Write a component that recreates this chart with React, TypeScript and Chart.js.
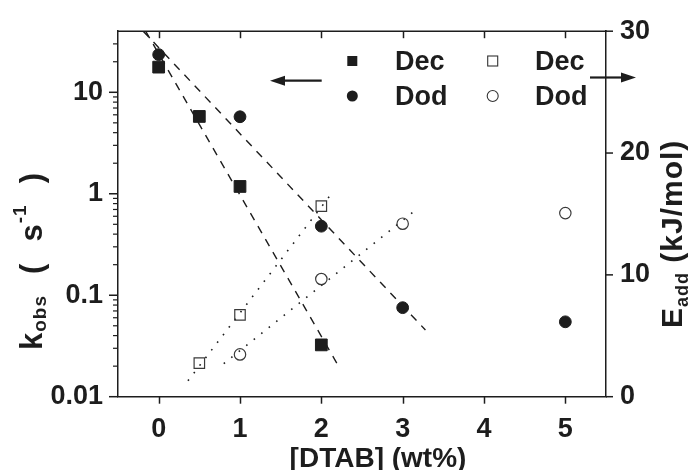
import React, { useEffect, useRef } from 'react';
import { Chart, registerables } from 'chart.js';

Chart.register(...registerables);

// Observed rate constants k_obs (s^-1) versus [DTAB] (wt%)
const decConc = [0, 0.5, 1, 2];
const decKobs = [17.7, 5.78, 1.18, 0.0324];
const dodConc = [0, 1, 2, 3, 5];
const dodKobs = [23.5, 5.74, 0.479, 0.0754, 0.0547];

// Apparent activation energies E_add (kJ/mol) versus [DTAB] (wt%)
const decEConc = [0.5, 1, 2];
const decEadd = [2.75, 6.72, 15.64];
const dodEConc = [1, 2, 3, 5];
const dodEadd = [3.47, 9.66, 14.2, 15.07];

// End points of the fitted trend lines
const decKFitConc = [-0.16, 2.19];
const decKFit = [40, 0.0214];
const dodKFitConc = [-0.19, 3.28];
const dodKFit = [40, 0.0454];
const decEFitConc = [0.36, 2.1];
const decEFit = [1.3, 16.45];
const dodEFitConc = [0.8, 3.19];
const dodEFit = [2.71, 15.48];

// Axis ticks
const xTicks = [0, 1, 2, 3, 4, 5];
const kTicks = [0.01, 0.1, 1, 10];
const kTickLabels = ['0.01', '0.1', '1', '10'];
const eTicks = [0, 10, 20, 30];
const legendNames = ['Dec', 'Dod'];

const INK = '#1d1d1d';
const FONT = '"Liberation Sans", Arial, Helvetica, sans-serif';

const pts = (xs: number[], ys: number[]) => xs.map((x, i) => ({ x, y: ys[i] }));

// spread: extra room goes after each character; tail: extra room after the piece
type Piece = { text: string; size: number; shift: number; spread: boolean; tail: boolean };

// Draws a bottom-to-top title made of pieces (main text, sub/superscripts),
// sharing the spare length between yStart and yEnd out over the chosen gaps.
function drawVerticalTitle(
  ctx: CanvasRenderingContext2D,
  pieces: Piece[],
  baseX: number,
  yStart: number,
  yEnd: number
) {
  let natural = 0;
  let gaps = 0;
  pieces.forEach((p, pi) => {
    ctx.font = `bold ${p.size}px ${FONT}`;
    const chars = Array.from(p.text);
    chars.forEach((ch, ci) => {
      natural += ctx.measureText(ch).width;
      const last = ci === chars.length - 1;
      const isEnd = last && pi === pieces.length - 1;
      if (!isEnd && ((p.spread && !last) || (last && p.tail))) gaps++;
    });
  });
  const gap = gaps > 0 ? Math.max(0, (yStart - yEnd - natural) / gaps) : 0;
  ctx.save();
  ctx.translate(baseX, yStart);
  ctx.rotate(-Math.PI / 2);
  ctx.textAlign = 'left';
  ctx.textBaseline = 'alphabetic';
  let pos = 0;
  pieces.forEach((p) => {
    ctx.font = `bold ${p.size}px ${FONT}`;
    const chars = Array.from(p.text);
    chars.forEach((ch, ci) => {
      const last = ci === chars.length - 1;
      ctx.fillText(ch, pos, p.shift);
      pos += ctx.measureText(ch).width;
      if ((p.spread && !last) || (last && p.tail)) pos += gap;
      else pos += 1;
    });
  });
  ctx.restore();
}

function arrow(ctx: CanvasRenderingContext2D, from: number, to: number, y: number) {
  const dir = Math.sign(to - from);
  const head = 15;
  ctx.beginPath();
  ctx.moveTo(from, y);
  ctx.lineTo(to - dir * head + dir, y);
  ctx.lineWidth = 2.2;
  ctx.stroke();
  ctx.beginPath();
  ctx.moveTo(to, y);
  ctx.lineTo(to - dir * head, y - 5);
  ctx.lineTo(to - dir * head, y + 5);
  ctx.closePath();
  ctx.fill();
}

const decorPlugin = {
  id: 'decor',
  afterDraw(chart: any) {
    const { ctx, chartArea: a } = chart;
    const sx = chart.scales.x;
    const sk = chart.scales.y;
    const se = chart.scales.y2;
    ctx.save();
    ctx.strokeStyle = INK;
    ctx.fillStyle = INK;
    ctx.lineCap = 'butt';
    const seg = (x1: number, y1: number, x2: number, y2: number) => {
      ctx.beginPath();
      ctx.moveTo(x1, y1);
      ctx.lineTo(x2, y2);
      ctx.stroke();
    };

    // top frame line and tick marks
    ctx.lineWidth = 1.5;
    seg(a.left - 0.75, a.top, a.right + 0.75, a.top);
    for (const v of xTicks) {
      const px = Math.round(sx.getPixelForValue(v)) + 0.5;
      seg(px, a.bottom, px, a.bottom + 7);
      seg(px, a.top, px, a.top + 7);
    }
    for (const v of kTicks) {
      const py = sk.getPixelForValue(v);
      seg(a.left - 9, py, a.left, py);
    }
    ctx.lineWidth = 1.2;
    for (let d = kTicks[0]; d < sk.max; d *= 10) {
      for (let m = 2; m <= 9; m++) {
        const v = m * d;
        if (v >= sk.max * 0.999) break;
        const py = sk.getPixelForValue(v);
        seg(a.left - 5, py, a.left, py);
      }
    }
    ctx.lineWidth = 1.5;
    for (const v of eTicks) {
      const py = se.getPixelForValue(v);
      seg(a.right, py, a.right + 7, py);
    }

    // legend
    ctx.font = `bold 27px ${FONT}`;
    ctx.textAlign = 'left';
    ctx.textBaseline = 'alphabetic';
    const rows = [61, 96];
    const textBase = [70, 105];
    legendNames.forEach((name, i) => {
      ctx.fillText(name, 395, textBase[i]);
      ctx.fillText(name, 535, textBase[i]);
    });
    // filled markers
    ctx.fillRect(352.3 - 5, rows[0] - 5, 10, 10);
    ctx.beginPath();
    ctx.arc(352.3, rows[1], 5.5, 0, Math.PI * 2);
    ctx.fill();
    // open markers
    ctx.lineWidth = 1.1;
    ctx.strokeStyle = '#333';
    ctx.strokeRect(492.7 - 5, rows[0] - 5, 10, 10);
    ctx.beginPath();
    ctx.arc(492.7, rows[1], 5.5, 0, Math.PI * 2);
    ctx.stroke();

    // arrows pointing to the axis of each marker family
    ctx.strokeStyle = INK;
    arrow(ctx, 321.7, 270, 80.7);
    arrow(ctx, 590, 636, 77.5);

    // axis titles
    ctx.font = `bold 28px ${FONT}`;
    ctx.textAlign = 'center';
    ctx.fillText('[DTAB] (wt%)', 378, 467);

    drawVerticalTitle(
      ctx,
      [
        { text: 'k', size: 31, shift: 0, spread: false, tail: false },
        { text: 'obs', size: 19, shift: 4, spread: false, tail: true },
        { text: '(s', size: 31, shift: 0, spread: true, tail: false },
        { text: '-1', size: 19, shift: -16, spread: false, tail: true },
        { text: ')', size: 31, shift: 0, spread: false, tail: false },
      ],
      42,
      350,
      178
    );
    drawVerticalTitle(
      ctx,
      [
        { text: 'E', size: 30, shift: 0, spread: false, tail: false },
        { text: 'add', size: 18, shift: 6, spread: false, tail: false },
        { text: ' (kJ/mol)', size: 30, shift: 0, spread: false, tail: false },
      ],
      682,
      328,
      143
    );
    ctx.restore();
  },
};

export default function App() {
  const ref = useRef<HTMLCanvasElement>(null);

  useEffect(() => {
    const canvas = ref.current;
    if (!canvas) return;
    const tickFont = { family: FONT, size: 27, weight: 'bold' as const };
    const axisBorder = { display: true, color: INK, width: 1.5 };
    const noGrid = { display: false, drawTicks: false };

    const chart = new Chart(canvas, {
      type: 'scatter',
      data: {
        datasets: [
          {
            label: 'Dec k_obs',
            data: pts(decConc, decKobs),
            yAxisID: 'y',
            pointStyle: 'rect',
            pointRadius: 8.3,
            borderWidth: 1,
            backgroundColor: INK,
            borderColor: INK,
          },
          {
            label: 'Dod k_obs',
            data: pts(dodConc, dodKobs),
            yAxisID: 'y',
            pointStyle: 'circle',
            pointRadius: 5.9,
            borderWidth: 1,
            backgroundColor: INK,
            borderColor: INK,
          },
          {
            label: 'Dec E_add',
            data: pts(decEConc, decEadd),
            yAxisID: 'y2',
            pointStyle: 'rect',
            pointRadius: 7.4,
            borderWidth: 1.2,
            backgroundColor: 'rgba(0,0,0,0)',
            borderColor: '#3a3a3a',
          },
          {
            label: 'Dod E_add',
            data: pts(dodEConc, dodEadd),
            yAxisID: 'y2',
            pointStyle: 'circle',
            pointRadius: 5.7,
            borderWidth: 1.2,
            backgroundColor: 'rgba(0,0,0,0)',
            borderColor: '#3a3a3a',
          },
          {
            label: 'Dec k_obs fit',
            data: pts(decKFitConc, decKFit),
            yAxisID: 'y',
            showLine: true,
            pointRadius: 0,
            borderWidth: 1.4,
            borderColor: INK,
            borderDash: [8, 7],
          },
          {
            label: 'Dod k_obs fit',
            data: pts(dodKFitConc, dodKFit),
            yAxisID: 'y',
            showLine: true,
            pointRadius: 0,
            borderWidth: 1.4,
            borderColor: INK,
            borderDash: [8, 7],
          },
          {
            label: 'Dec E_add fit',
            data: pts(decEFitConc, decEFit),
            yAxisID: 'y2',
            showLine: true,
            pointRadius: 0,
            borderWidth: 1.6,
            borderColor: INK,
            borderDash: [1.6, 8],
          },
          {
            label: 'Dod E_add fit',
            data: pts(dodEFitConc, dodEFit),
            yAxisID: 'y2',
            showLine: true,
            pointRadius: 0,
            borderWidth: 1.6,
            borderColor: INK,
            borderDash: [1.6, 8],
          },
        ],
      },
      options: {
        responsive: false,
        animation: false,
        devicePixelRatio: 1,
        events: [],
        layout: { padding: { top: 27, left: 0, right: 0, bottom: 0 } },
        plugins: { legend: { display: false }, tooltip: { enabled: false } },
        scales: {
          x: {
            type: 'linear',
            position: 'bottom',
            min: -0.5,
            max: 5.5,
            grid: noGrid,
            border: axisBorder,
            afterBuildTicks: (s: any) => {
              s.ticks = xTicks.map((value) => ({ value }));
            },
            afterFit: (s: any) => {
              s.height = 73.3;
            },
            ticks: {
              font: tickFont,
              color: INK,
              padding: 17,
              autoSkip: false,
              maxRotation: 0,
              callback: (v: any) => String(v),
            },
          },
          y: {
            type: 'logarithmic',
            position: 'left',
            min: 0.01,
            max: 40,
            grid: noGrid,
            border: axisBorder,
            afterBuildTicks: (s: any) => {
              s.ticks = kTicks.map((value) => ({ value }));
            },
            afterFit: (s: any) => {
              s.width = 118;
            },
            ticks: {
              font: tickFont,
              color: INK,
              padding: 15,
              autoSkip: false,
              callback: (_v: any, i: number) => kTickLabels[i],
            },
          },
          y2: {
            type: 'linear',
            position: 'right',
            min: 0,
            max: 30,
            grid: noGrid,
            border: axisBorder,
            afterBuildTicks: (s: any) => {
              s.ticks = eTicks.map((value) => ({ value }));
            },
            afterFit: (s: any) => {
              s.width = 91;
            },
            ticks: {
              font: tickFont,
              color: INK,
              padding: 14,
              autoSkip: false,
              callback: (v: any) => String(v),
            },
          },
        },
      },
      plugins: [decorPlugin],
    } as any);

    return () => chart.destroy();
  }, []);

  return (
    <div style={{ position: 'fixed', left: 0, top: 0, width: 697, height: 470, background: '#fff' }}>
      <canvas ref={ref} width={697} height={470} style={{ display: 'block', width: 697, height: 470 }} />
    </div>
  );
}
